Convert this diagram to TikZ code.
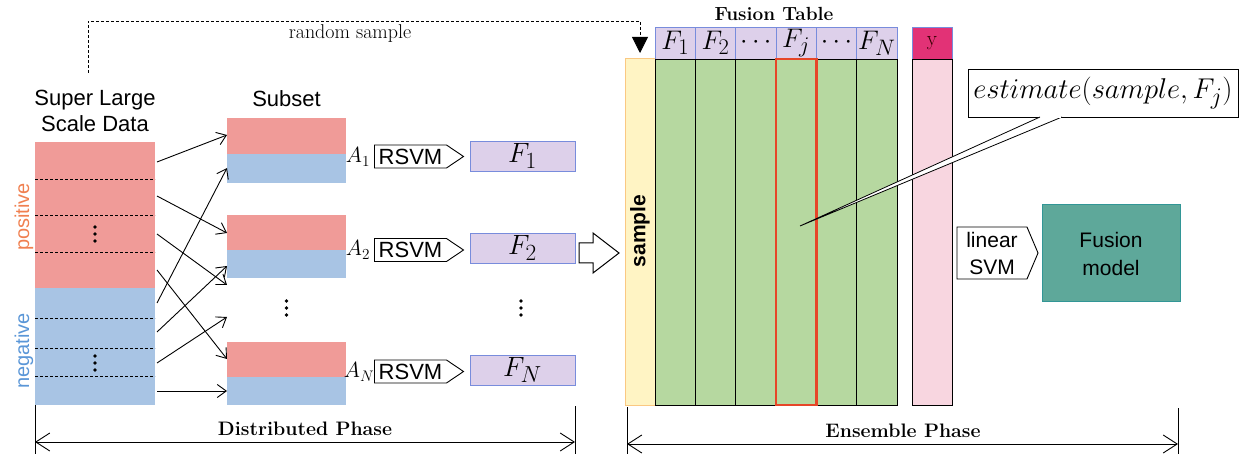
\documentclass[tikz,border=0pt]{standalone}
\usepackage{fontspec}
\newfontfamily\arial{Liberation Sans}
\usetikzlibrary{arrows.meta,shapes.symbols,calc}
\definecolor{pinkR}{RGB}{240,155,152}
\definecolor{blueR}{RGB}{168,196,228}
\definecolor{lav}{RGB}{221,208,234}
\definecolor{lavB}{RGB}{120,140,220}
\definecolor{greenC}{RGB}{182,216,160}
\definecolor{yel}{RGB}{255,244,196}
\definecolor{yelB}{RGB}{250,200,130}
\definecolor{pinkC}{RGB}{248,214,224}
\definecolor{magC}{RGB}{226,50,118}
\definecolor{tealC}{RGB}{94,168,154}
\definecolor{tealB}{RGB}{50,150,150}
\definecolor{redC}{RGB}{230,70,40}
\definecolor{posC}{RGB}{240,128,80}
\definecolor{negC}{RGB}{90,150,215}
\tikzset{
  blk/.style={rectangle, inner sep=0pt, outer sep=0pt},
  conn/.style={draw, line width=0.9pt, -{Straight Barb[length=9pt,width=13pt]}},
  sansL/.style={font=\arial\fontsize{22}{26}\selectfont},
  rsvm/.style={signal, signal to=east, draw, line width=0.9pt, fill=white, minimum width=89pt, minimum height=23pt, signal pointer angle=68, inner sep=1pt, outer sep=0pt, font=\arial\fontsize{22}{24}\selectfont},
  fbox/.style={blk, fill=lav, draw=lavB, line width=0.8pt, minimum width=105pt, minimum height=30pt, font=\fontsize{24.88}{26}\selectfont},
  hcell/.style={blk, fill=lav, draw=lavB, line width=0.8pt, minimum width=40.33pt, minimum height=32pt, font=\fontsize{24.88}{26}\selectfont},
  gcell/.style={blk, fill=greenC, draw=black, line width=0.7pt, minimum width=40.33pt, minimum height=346pt},
  alab/.style={font=\fontsize{20.74}{22}\selectfont, inner sep=0pt},
  phase/.style={font=\bfseries\fontsize{19.5}{21}\selectfont},
  dimarrow/.style={line width=0.9pt, {Straight Barb[length=14pt,width=18pt]}-{Straight Barb[length=14pt,width=18pt]}},
  tick/.style={line width=0.9pt},
  dsh/.style={line width=0.8pt, dash pattern=on 3pt off 2pt}
}
\newcommand\threedots[2]{\foreach \d in {-7,0,7} \fill (#1,#2+\d) circle (1.8pt);}
\begin{document}
\begin{tikzpicture}[x=1pt,y=-1pt]
\useasboundingbox (0,0) rectangle (1242,454);

% ---------- random sample dashed connector
\coordinate (rs) at (88,73);
\coordinate (rstop) at (640,21);

% ---------- Super large data
\node[sansL, align=center, inner sep=0pt, anchor=south] (sld) at (95,132) {Super Large\\Scale Data};
\node[blk, fill=pinkR, minimum width=120pt, minimum height=146pt] (pos) at (95,215) {};
\node[blk, fill=blueR, minimum width=120pt, minimum height=117pt] (neg) at (95,346.5) {};
\foreach \y in {179,215,252,318,348,376} \draw[dsh] (35,\y) -- (155,\y);
\threedots{95}{234}
\threedots{95}{363}
\node[rotate=90, text=posC, font=\arial\fontsize{20}{22}\selectfont] (plab) at (24,217) {positive};
\node[rotate=90, text=negC, font=\arial\fontsize{20}{22}\selectfont] (nlab) at (24,351) {negative};

% ---------- subsets
\node[sansL, anchor=base] (subl) at (286.5,107) {Subset};
\node[blk, fill=pinkR, minimum width=119pt, minimum height=36pt] (s1p) at (286.5,136) {};
\node[blk, fill=blueR, minimum width=119pt, minimum height=29pt] (s1b) at (286.5,168.5) {};
\node[blk, fill=pinkR, minimum width=119pt, minimum height=35pt] (s2p) at (286.5,232.5) {};
\node[blk, fill=blueR, minimum width=119pt, minimum height=28pt] (s2b) at (286.5,264) {};
\node[blk, fill=pinkR, minimum width=119pt, minimum height=35pt] (snp) at (286.5,359.5) {};
\node[blk, fill=blueR, minimum width=119pt, minimum height=28pt] (snb) at (286.5,391) {};
\threedots{286.5}{308}

% ---------- sampling arrows
\foreach \n/\ya/\yb in {1/162/135, 2/196/233, 3/234/285, 4/270/359, 5/303/168, 6/332/266, 7/363/317, 8/391/391} {
  \coordinate (st\n) at (157,\ya);
  \coordinate (en\n) at (227,\yb);
}
\foreach \n in {1,...,8} \draw[conn] (st\n) -- (en\n);

% ---------- RSVM and F boxes
\node[alab] (a1) at (358,157) {\scalebox{1.06}{$A_1$}};
\node[alab] (a2) at (358,250) {\scalebox{1.06}{$A_2$}};
\node[alab] (an) at (359,372) {\scalebox{1.06}{$A_N$}};
\node[rsvm] (r1) at (410.5,156.5) {RSVM};
\node[rsvm] (r2) at (410.5,250) {RSVM};
\node[rsvm] (rn) at (410.5,371.5) {RSVM};
\node[fbox] (f1) at (522.5,156) {\scalebox{1.12}{$F_1$}};
\node[fbox] (f2) at (522.5,248) {\scalebox{1.12}{$F_2$}};
\node[fbox] (fn) at (522.5,370) {\scalebox{1.12}{$F_N$}};
\threedots{521}{308}

% ---------- hollow arrow
\draw[line width=1pt, fill=white, line join=miter] (579,243) -- (593,243) -- (593,233) -- (619,253) -- (593,273) -- (593,263) -- (579,263) -- cycle;

% ---------- Fusion table
\node[font=\bfseries\fontsize{19}{20}\selectfont, anchor=base, inner sep=0pt] (ftl) at (774,20.5) {Fusion Table};
\node[blk, fill=yel, draw=yelB, line width=1pt, minimum width=30pt, minimum height=346pt] (sc) at (640,232) {};
\node[rotate=90, font=\arial\bfseries\fontsize{21}{23}\selectfont] (sct) at (640,231) {sample};
\foreach \i/\t in {1/{$F_1$},2/{$F_2$},3/{$\cdots$},4/{$F_j$},5/{$\cdots$},6/{$F_N$}} {
  \node[hcell] (h\i) at ({655+40.33*(\i-0.5)},43) {\scalebox{1.08}{\t}};
  \node[gcell] (c\i) at ({655+40.33*(\i-0.5)},232) {};
}
\draw[redC, line width=2.6pt] (c4.north west) rectangle (c4.south east);
\node[blk, fill=magC, draw=lavB, line width=0.8pt, minimum width=40pt, minimum height=32pt, font=\fontsize{21}{22}\selectfont, text=black!80!red] (yh) at (932,43) {y};
\node[blk, fill=pinkC, draw=black, line width=0.7pt, minimum width=40pt, minimum height=346pt] (yc) at (932,232) {};

% ---------- estimate callout
\coordinate (tip) at (800,226);
\node[blk, draw=black, fill=white, line width=0.9pt, minimum width=270pt, minimum height=48pt, font=\fontsize{24.88}{26}\selectfont] (est) at (1103,93) {\scalebox{1.15}{$estimate(sample,F_j)$}};
\draw[line width=0.8pt, fill=white] ($(est.south west)+(72,0)$) -- (tip) -- ($(est.south west)+(94,0)$);
\draw[draw=white, line width=1.2pt] ($(est.south west)+(73.5,0)$) -- ($(est.south west)+(92.5,0)$);

% ---------- linear SVM and fusion model
\node[signal, signal to=east, draw, line width=0.9pt, fill=white, minimum width=81pt, minimum height=52pt, signal pointer angle=134, inner sep=2pt, align=center, font=\arial\fontsize{21}{27}\selectfont] (lsvm) at (992,253) {linear\\SVM};
\node[blk, fill=tealC, draw=tealB, line width=1pt, minimum width=138pt, minimum height=97pt, align=center, font=\arial\fontsize{21}{28}\selectfont] (fm) at (1111,253.5) {Fusion\\model};

% ---------- dashed random sample
\draw[dsh, -{Triangle[length=16pt,width=16pt]}, shorten >=6pt] (rs) |- (rstop) -- (sc.north);
\node[font=\fontsize{20}{22}\selectfont, anchor=base] (rst) at (350,39) {random sample};

% ---------- phase dimension arrows
\coordinate (dl) at (35,442);
\coordinate (dr) at (575,442);
\draw[tick] (35,405) -- (35,454);
\draw[tick] (575,406) -- (575,454);
\draw[dimarrow] (dl) -- (dr);
\node[phase, anchor=base] (dp) at (305,435) {Distributed Phase};
\coordinate (el) at (627,444);
\coordinate (er) at (1178,444);
\draw[tick] (627,407) -- (627,454);
\draw[tick] (1178,408) -- (1178,454);
\draw[dimarrow] (el) -- (er);
\node[phase, anchor=base] (ep) at (903,437) {Ensemble Phase};
\end{tikzpicture}
\end{document}
